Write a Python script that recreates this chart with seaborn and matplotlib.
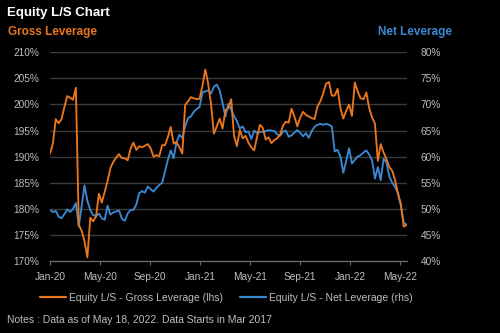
import matplotlib
matplotlib.use("Agg")
import matplotlib.pyplot as plt
import matplotlib.dates as mdates
from matplotlib.lines import Line2D
import numpy as np
import pandas as pd
import seaborn as sns

# Weekly observations (Wednesdays), 2020-01-01 .. 2022-05-18
dates = pd.date_range("2020-01-01", "2022-05-18", freq="7D")

gross_leverage = [
    190.6, 192.5, 197.2, 196.4, 197.2, 199.5, 201.6, 201.3, 200.9, 203.2,
    177.0, 175.8, 173.8, 170.7, 178.3, 177.6, 178.5, 182.9, 181.2, 183.2,
    185.3, 187.8, 189.0, 189.8, 190.5, 189.7, 189.7, 189.3, 191.5, 192.7,
    191.3, 192.0, 191.8, 192.1, 192.4, 191.6, 190.0, 190.3, 190.1, 192.2,
    192.2, 193.8, 195.7, 192.5, 192.8, 191.8, 190.6, 199.9, 200.6, 201.4,
    201.2, 201.0, 201.1, 203.5, 206.7, 204.0, 200.0, 194.4, 195.8, 197.3,
    195.4, 198.9, 199.3, 201.0, 194.0, 192.0, 195.1, 193.5, 194.0, 192.7,
    191.8, 191.2, 193.8, 196.1, 195.5, 193.3, 193.7, 192.6, 193.2, 193.5,
    194.2, 195.9, 196.7, 196.5, 199.2, 197.7, 195.8, 197.5, 198.6, 198.0,
    197.7, 197.4, 197.2, 199.6, 200.6, 202.1, 204.0, 204.3, 201.7, 201.7,
    203.0, 199.3, 197.3, 198.8, 200.0, 197.8, 204.2, 202.5, 201.2, 201.0,
    202.3, 199.3, 197.5, 196.3, 189.2, 192.4, 190.8, 189.5, 188.0, 187.3,
    185.5, 182.9, 181.0, 176.6, 176.9,
]

net_leverage = [
    49.8, 49.4, 49.6, 48.5, 48.2, 49.0, 49.9, 49.4, 50.0, 51.1,
    46.6, 50.5, 54.5, 51.5, 49.8, 48.8, 48.6, 49.1, 48.2, 47.9,
    50.6, 48.9, 49.3, 49.5, 49.7, 48.1, 47.7, 49.1, 49.8, 49.8,
    50.8, 53.0, 53.4, 53.1, 54.3, 53.8, 53.3, 54.0, 54.6, 55.0,
    57.2, 59.4, 61.2, 59.7, 62.8, 64.2, 63.6, 65.8, 67.4, 67.7,
    68.6, 69.1, 69.5, 72.3, 72.5, 72.7, 72.1, 73.4, 73.8, 72.7,
    70.3, 67.7, 70.1, 69.0, 67.8, 66.8, 65.4, 65.8, 64.7, 64.8,
    63.4, 65.0, 64.5, 64.7, 64.8, 64.9, 65.1, 65.0, 64.9, 64.3,
    64.0, 64.8, 65.0, 63.8, 64.1, 64.6, 65.1, 64.6, 63.9, 64.5,
    63.6, 64.9, 65.7, 66.1, 66.3, 66.1, 66.3, 66.1, 65.8, 61.0,
    61.3, 60.0, 56.9, 59.2, 61.6, 58.7, 59.4, 60.0, 60.3, 60.8,
    61.2, 60.4, 59.3, 55.8, 58.0, 55.5, 59.6, 58.9, 56.2, 55.0,
    54.2, 53.0, 50.6, 47.3, 47.0,
]

gross_ticks = [170, 175, 180, 185, 190, 195, 200, 205, 210]
net_ticks = [40, 45, 50, 55, 60, 65, 70, 75, 80]
month_ticks = pd.date_range("2020-01-01", "2022-05-01", freq="4MS")

title_text = "Equity L/S Chart"
left_title = "Gross Leverage"
right_title = "Net Leverage"
gross_label = "Equity L/S - Gross Leverage (lhs)"
net_label = "Equity L/S - Net Leverage (rhs)"
note_text = "Notes : Data as of May 18, 2022. Data Starts in Mar 2017"

ORANGE = "#E8761E"
BLUE = "#3A88D2"
BG = "#000000"
TXT = "#BDBDBD"
GRID = "#3A3A3A"

sns.set_theme(style="dark")
plt.rcParams["font.family"] = ["Liberation Sans", "DejaVu Sans"]

df = pd.DataFrame({"date": dates, "gross": gross_leverage, "net": net_leverage})

fig = plt.figure(figsize=(5.0, 3.33), dpi=100, facecolor=BG)
ax = fig.add_axes([0.100, 0.216, 0.714, 0.627])
ax2 = ax.twinx()

sns.lineplot(data=df, x="date", y="gross", ax=ax, color=ORANGE, linewidth=1.35)
sns.lineplot(data=df, x="date", y="net", ax=ax2, color=BLUE, linewidth=1.35)

# orange series drawn above the blue one; back axes carries the background
ax.set_zorder(2)
ax2.set_zorder(1)
ax.patch.set_visible(False)
ax2.patch.set_visible(True)
ax2.patch.set_facecolor(BG)

ax.set_ylim(170, 210)
ax2.set_ylim(40, 80)
ax.set_xlim(pd.Timestamp("2020-01-01"), pd.Timestamp("2022-05-19"))

ax.set_yticks(gross_ticks)
ax.set_yticklabels([f"{t}%" for t in gross_ticks])
ax2.set_yticks(net_ticks)
ax2.set_yticklabels([f"{t}%" for t in net_ticks])
ax.set_xticks(month_ticks)
ax.xaxis.set_major_formatter(mdates.DateFormatter("%b-%y"))

for a in (ax, ax2):
    a.set_xlabel("")
    a.set_ylabel("")
    a.grid(False)
    for s in a.spines.values():
        s.set_visible(False)

for t in net_ticks[1:]:
    ax2.axhline(t, color=GRID, linewidth=1.0, zorder=0)

ax.spines["bottom"].set_visible(True)
ax.spines["bottom"].set_color("#6A6A6A")
ax.spines["bottom"].set_linewidth(1.0)

ax.tick_params(axis="y", colors=TXT, labelsize=7.3, length=0, pad=8)
ax2.tick_params(axis="y", colors=TXT, labelsize=7.3, length=0, pad=10)
ax.tick_params(axis="x", colors=TXT, labelsize=7.3, length=3, width=0.8,
               direction="out", pad=5, bottom=True, color="#6A6A6A")
ax2.tick_params(axis="x", bottom=False, labelbottom=False)

fig.text(0.014, 0.962, title_text, color="white", fontsize=9.5,
         fontweight="bold", ha="left", va="center")
fig.text(0.016, 0.903, left_title, color=ORANGE, fontsize=8.5,
         fontweight="bold", ha="left", va="center")
fig.text(0.905, 0.903, right_title, color=BLUE, fontsize=8.5,
         fontweight="bold", ha="right", va="center")

handles = [
    Line2D([0], [0], color=ORANGE, linewidth=1.6),
    Line2D([0], [0], color=BLUE, linewidth=1.6),
]
leg = fig.legend(handles, [gross_label, net_label], loc="center left",
                 bbox_to_anchor=(0.080, 0.105), ncol=2, frameon=False,
                 fontsize=7.5, handlelength=2.5, handletextpad=0.3,
                 columnspacing=1.6, borderaxespad=0, borderpad=0)
for t in leg.get_texts():
    t.set_color(TXT)

fig.text(0.014, 0.040, note_text, color=TXT, fontsize=7.5,
         ha="left", va="center")

fig.savefig("out.png", dpi=100, facecolor=BG)
